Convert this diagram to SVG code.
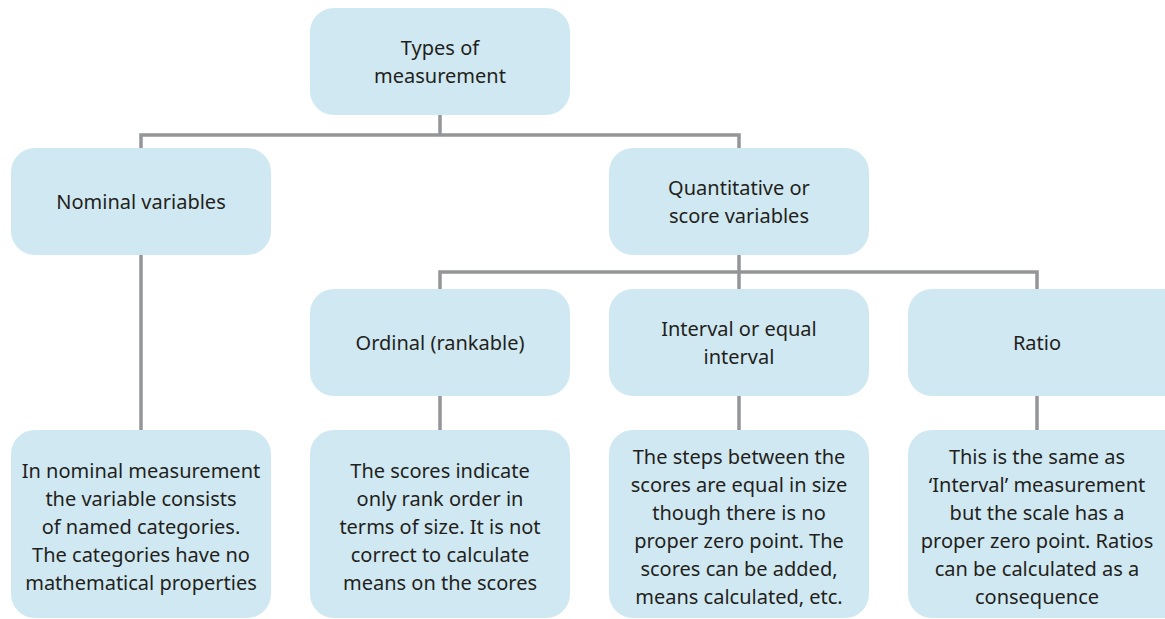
<svg xmlns="http://www.w3.org/2000/svg" width="1165" height="619" viewBox="0 0 1165 619">
  <style>
    .box { fill: #d0e8f1; }
    .lbl { font-family: "Noto Sans", "Open Sans", sans-serif; font-size: 20px; fill: #231f20; text-anchor: middle; }
    .wire { fill: none; stroke: #939598; stroke-width: 3.5; }
  </style>
  <rect width="1165" height="619" fill="#ffffff"/>

  <!-- tree connectors -->
  <g id="connectors" class="wire">
    <path d="M440 115 V135"/>
    <path d="M141 148 V135 H739 V148"/>
    <path d="M141 255 V430"/>
    <path d="M739 255 V272"/>
    <path d="M440 289 V272 H1037 V289"/>
    <path d="M739 272 V289"/>
    <path d="M440 396 V430"/>
    <path d="M739 396 V430"/>
    <path d="M1037 396 V430"/>
  </g>

  <g id="types">
    <rect class="box" x="310" y="8" width="260" height="107" rx="24"/>
    <text class="lbl" x="440" y="55">Types of</text>
    <text class="lbl" x="440" y="83">measurement</text>
  </g>

  <g id="nominal">
    <rect class="box" x="11" y="148" width="260" height="107" rx="24"/>
    <text class="lbl" x="141" y="209">Nominal variables</text>
  </g>

  <g id="quantitative">
    <rect class="box" x="609" y="148" width="260" height="107" rx="24"/>
    <text class="lbl" x="739" y="195">Quantitative or</text>
    <text class="lbl" x="739" y="223">score variables</text>
  </g>

  <g id="ordinal">
    <rect class="box" x="310" y="289" width="260" height="107" rx="24"/>
    <text class="lbl" x="440" y="350">Ordinal (rankable)</text>
  </g>

  <g id="interval">
    <rect class="box" x="609" y="289" width="260" height="107" rx="24"/>
    <text class="lbl" x="739" y="336">Interval or equal</text>
    <text class="lbl" x="739" y="364">interval</text>
  </g>

  <g id="ratio">
    <rect class="box" x="908" y="289" width="280" height="107" rx="24"/>
    <text class="lbl" x="1037" y="350">Ratio</text>
  </g>

  <g id="nominal-desc">
    <rect class="box" x="11" y="430" width="260" height="188" rx="24"/>
    <text class="lbl" x="141" y="478">In nominal measurement</text>
    <text class="lbl" x="141" y="506">the variable consists</text>
    <text class="lbl" x="141" y="534">of named categories.</text>
    <text class="lbl" x="141" y="562">The categories have no</text>
    <text class="lbl" x="141" y="590">mathematical properties</text>
  </g>

  <g id="ordinal-desc">
    <rect class="box" x="310" y="430" width="260" height="188" rx="24"/>
    <text class="lbl" x="440" y="478">The scores indicate</text>
    <text class="lbl" x="440" y="506">only rank order in</text>
    <text class="lbl" x="440" y="534">terms of size. It is not</text>
    <text class="lbl" x="440" y="562">correct to calculate</text>
    <text class="lbl" x="440" y="590">means on the scores</text>
  </g>

  <g id="interval-desc">
    <rect class="box" x="609" y="430" width="260" height="188" rx="24"/>
    <text class="lbl" x="739" y="464">The steps between the</text>
    <text class="lbl" x="739" y="492">scores are equal in size</text>
    <text class="lbl" x="739" y="520">though there is no</text>
    <text class="lbl" x="739" y="548">proper zero point. The</text>
    <text class="lbl" x="739" y="576">scores can be added,</text>
    <text class="lbl" x="739" y="604">means calculated, etc.</text>
  </g>

  <g id="ratio-desc">
    <rect class="box" x="908" y="430" width="280" height="188" rx="24"/>
    <text class="lbl" x="1037" y="464">This is the same as</text>
    <text class="lbl" x="1037" y="492">‘Interval’ measurement</text>
    <text class="lbl" x="1037" y="520">but the scale has a</text>
    <text class="lbl" x="1037" y="548">proper zero point. Ratios</text>
    <text class="lbl" x="1037" y="576">can be calculated as a</text>
    <text class="lbl" x="1037" y="604">consequence</text>
  </g>
</svg>
